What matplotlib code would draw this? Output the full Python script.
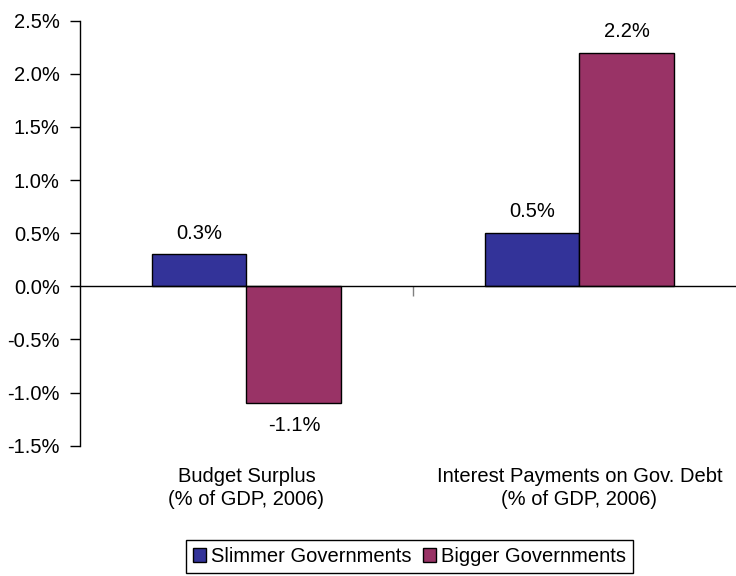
import numpy as np
import matplotlib.pyplot as plt

plt.rcParams['font.family'] = ['Liberation Sans', 'DejaVu Sans']

categories = ["Budget Surplus\n(% of GDP, 2006)",
              "Interest Payments on Gov. Debt\n(% of GDP, 2006)"]
series_names = ["Slimmer Governments", "Bigger Governments"]
slimmer = [0.3, 0.5]
bigger = [-1.1, 2.2]
colors = ["#333399", "#993366"]

fig = plt.figure(figsize=(7.36, 5.76), dpi=100)
ax = fig.add_axes([80 / 736, 130.3 / 576, 666 / 736, 425 / 576])

x = np.arange(len(categories)) + 0.5
width = 0.285

for i, (vals, name) in enumerate(zip([slimmer, bigger], series_names)):
    offs = (i - 0.5) * width
    b = ax.bar(x + offs, vals, width, color=colors[i], edgecolor="black",
               linewidth=1, label=name, zorder=2)
    for rect, v in zip(b, vals):
        cx = rect.get_x() + rect.get_width() / 2
        if v >= 0:
            ax.annotate(f"{v:.1f}%", (cx, v), xytext=(0, 8.5),
                        textcoords="offset points", ha="center", va="bottom",
                        fontsize=14.5)
        else:
            ax.annotate(f"{v:.1f}%", (cx, v), xytext=(0, -9),
                        textcoords="offset points", ha="center", va="top",
                        fontsize=14.5)

ax.set_xlim(0, 2)
ax.set_ylim(-1.5, 2.5)
yt = np.arange(-1.5, 2.51, 0.5)
ax.set_yticks(yt)
ax.set_yticklabels([f"{t:.1f}%" for t in yt])
ax.tick_params(axis="y", length=7, width=1, pad=7.5, labelsize=14.5)

# horizontal axis sits at zero, with a single divider tick between groups
ax.spines["top"].set_visible(False)
ax.spines["right"].set_visible(False)
ax.spines["bottom"].set_position(("data", 0))
ax.spines["bottom"].set_zorder(3)
ax.spines["left"].set_linewidth(1)
ax.spines["bottom"].set_linewidth(1)
ax.set_xticks([1])
ax.set_xticklabels([""])
ax.tick_params(axis="x", length=7, width=1, color="#808080")

# category labels below the plot area
for xi, label in zip(x, categories):
    ax.text(xi, -0.05, label, transform=ax.get_xaxis_transform(),
            ha="center", va="top", fontsize=14.5, linespacing=1.3)

ax.legend(loc="upper center", bbox_to_anchor=(409.5 / 736, 1 - 540 / 576),
          bbox_transform=fig.transFigure, ncol=2, fontsize=14.5,
          frameon=True, fancybox=False, edgecolor="black", framealpha=1,
          handlelength=0.65, handleheight=0.65, handletextpad=0.25,
          columnspacing=0.55, borderpad=0.35, borderaxespad=0)
ax.get_legend().get_frame().set_linewidth(1)

fig.savefig("out.png", dpi=100)
